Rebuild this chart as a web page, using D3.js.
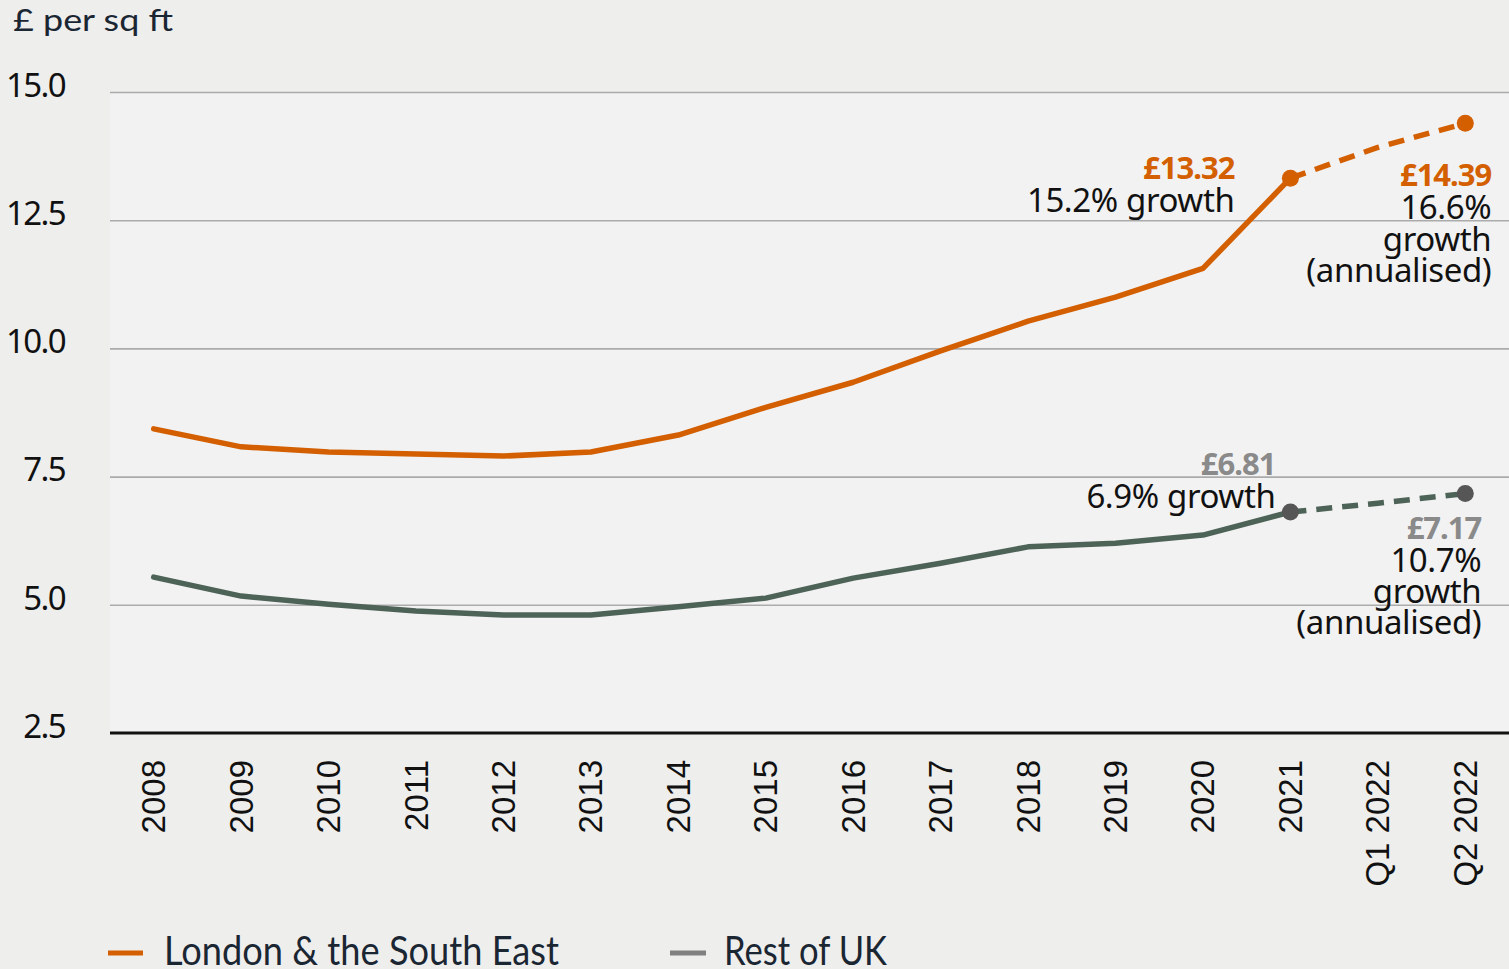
<!DOCTYPE html>
<html>
<head>
<meta charset="utf-8">
<script src="https://cdn.jsdelivr.net/npm/d3@7/dist/d3.min.js"></script>
<style>
  html, body { margin: 0; padding: 0; background: #eeeeed; }
  svg { display: block; }
</style>
</head>
<body>
<svg id="chart" width="1509" height="969"></svg>
<script>
// Period labels along the x axis
const periods = ["2008", "2009", "2010", "2011", "2012", "2013", "2014", "2015",
  "2016", "2017", "2018", "2019", "2020", "2021", "Q1 2022", "Q2 2022"];

// Rent, £ per sq ft
const londonSE = [8.43, 8.08, 7.98, 7.94, 7.90, 7.98, 8.31, 8.85,
  9.34, 9.95, 10.53, 11.00, 11.56, 13.32, 13.92, 14.39];
const restOfUK = [5.54, 5.17, 5.01, 4.88, 4.80, 4.80, 4.96, 5.13,
  5.52, 5.81, 6.13, 6.20, 6.36, 6.81, 6.98, 7.17];

const yTicks = [2.5, 5.0, 7.5, 10.0, 12.5, 15.0];

// Growth notes shown beside the highlighted points
const londonNotes = { y2021: "15.2% growth", q2: ["16.6%", "growth", "(annualised)"] };
const restNotes = { y2021: "6.9% growth", q2: ["10.7%", "growth", "(annualised)"] };

const seriesNames = ["London & the South East", "Rest of UK"];

const plot = { left: 110, right: 1509, top: 92, bottom: 733 };
const ORANGE = "#d35f00", GREEN = "#4e6357", DOT_GREY = "#565656";
const FONT = "'Noto Sans', 'Open Sans', sans-serif";

const svg = d3.select("#chart");

const x = d3.scalePoint().domain(periods).range([plot.left, plot.right]).padding(0.5);
const y = d3.scaleLinear().domain([2.5, 15]).range([plot.bottom, plot.top]);

// Plot panel
svg.append("rect")
  .attr("x", plot.left).attr("y", plot.top)
  .attr("width", plot.right - plot.left).attr("height", plot.bottom - plot.top)
  .attr("fill", "#f2f2f2");

// Horizontal gridlines with left labels
const yAxis = d3.axisLeft(y).tickValues(yTicks).tickSize(-(plot.right - plot.left))
  .tickFormat(d3.format(".1f"));
const gy = svg.append("g").attr("transform", `translate(${plot.left},0)`).call(yAxis);
gy.select(".domain").remove();
gy.selectAll(".tick line").attr("stroke", "#ababab").attr("stroke-width", 1.6)
  .filter(d => d === 2.5).remove();
gy.selectAll(".tick text")
  .attr("x", -45).attr("dy", "0.13em")
  .attr("text-anchor", "end")
  .attr("font-family", FONT)
  .attr("font-size", 33).attr("letter-spacing", -1.6)
  .attr("fill", "#111");

// Bottom axis
const xAxis = d3.axisBottom(x).tickSize(0);
const gx = svg.append("g").attr("transform", `translate(0,${plot.bottom})`).call(xAxis);
gx.select(".domain").attr("stroke", "#111").attr("stroke-width", 3)
  .attr("d", `M${plot.left},0H${plot.right}`);
gx.selectAll(".tick text")
  .attr("transform", "translate(11,27) rotate(-90)")
  .attr("x", 0).attr("y", 0).attr("dy", 0)
  .attr("text-anchor", "end")
  .attr("font-family", "'Liberation Sans', Arial, sans-serif")
  .attr("font-size", 33)
  .attr("fill", "#111");

// Lines: solid through 2021, dashed for 2022 quarters
const line = d3.line().x(d => x(d.p)).y(d => y(d.v));
const split = periods.indexOf("2021");

function drawSeries(vals, color, dotColor) {
  const pts = periods.map((p, i) => ({ p, v: vals[i] }));
  svg.append("path").datum(pts.slice(0, split + 1))
    .attr("d", line).attr("fill", "none").attr("stroke", color)
    .attr("stroke-width", 5.5).attr("stroke-linejoin", "round").attr("stroke-linecap", "round");
  svg.append("path").datum(pts.slice(split))
    .attr("d", line).attr("fill", "none").attr("stroke", color)
    .attr("stroke-width", 5.5).attr("stroke-dasharray", "16,10");
  svg.selectAll(null).data([pts[split], pts[pts.length - 1]]).enter().append("circle")
    .attr("cx", d => x(d.p)).attr("cy", d => y(d.v)).attr("r", 8.5)
    .attr("fill", dotColor);
  return pts;
}

const lon = drawSeries(londonSE, ORANGE, ORANGE);
const rest = drawSeries(restOfUK, GREEN, DOT_GREY);

function label(xp, yp, txt, opts) {
  svg.append("text").attr("x", xp).attr("y", yp).text(txt)
    .attr("text-anchor", "end")
    .attr("font-family", FONT)
    .attr("font-size", opts.size || 33)
    .attr("font-weight", opts.bold ? 700 : 400)
    .attr("letter-spacing", opts.bold ? -1 : -0.4)
    .attr("fill", opts.color || "#111");
}
const money = v => "£" + v.toFixed(2);

// London & South East notes
{
  const a = lon[split], b = lon[lon.length - 1];
  const ax = x(a.p), ay = y(a.v), bx = x(b.p), by = y(b.v);
  label(ax - 56, ay + 1, money(a.v), { bold: true, color: ORANGE, size: 31 });
  label(ax - 56, ay + 34, londonNotes.y2021, {});
  label(bx + 26, by + 63, money(b.v), { bold: true, color: ORANGE, size: 31 });
  londonNotes.q2.forEach((t, i) => label(bx + 26, by + 96 + i * 31.5, t, {}));
}
// Rest of UK notes
{
  const a = rest[split], b = rest[rest.length - 1];
  const ax = x(a.p), ay = y(a.v), bx = x(b.p), by = y(b.v);
  label(ax - 15, ay - 37, money(a.v), { bold: true, color: "#8a8a8a", size: 31 });
  label(ax - 15, ay - 4, restNotes.y2021, {});
  label(bx + 16, by + 45, money(b.v), { bold: true, color: "#8a8a8a", size: 31 });
  restNotes.q2.forEach((t, i) => label(bx + 16, by + 78 + i * 31, t, {}));
}

// Unit title
svg.append("text").attr("x", 13).attr("y", 31).text("£ per sq ft")
  .attr("font-family", "Lato, 'Noto Sans', sans-serif").attr("font-size", 30)
  .attr("textLength", 160).attr("lengthAdjust", "spacingAndGlyphs")
  .attr("fill", "#1b2633");

// Legend
const legend = [
  { name: seriesNames[0], color: ORANGE, x0: 108, x1: 143, tx: 164, tw: 395 },
  { name: seriesNames[1], color: "#808080", x0: 670, x1: 706, tx: 724, tw: 163 }
];
legend.forEach(l => {
  svg.append("line").attr("x1", l.x0).attr("x2", l.x1).attr("y1", 953).attr("y2", 953)
    .attr("stroke", l.color).attr("stroke-width", 5);
  svg.append("text").attr("x", l.tx).attr("y", 965).text(l.name)
    .attr("font-family", "Lato, 'Noto Sans', sans-serif").attr("font-size", 40)
    .attr("textLength", l.tw).attr("lengthAdjust", "spacingAndGlyphs")
    .attr("fill", "#1b2633");
});
</script>
</body>
</html>
